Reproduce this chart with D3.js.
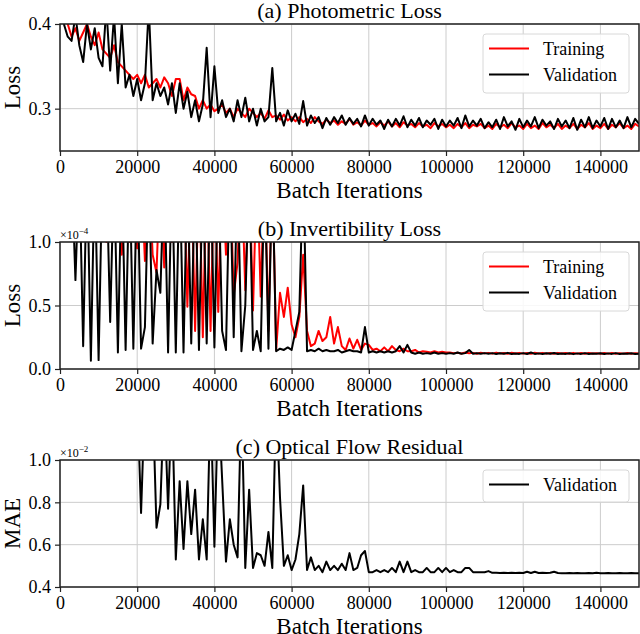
<!DOCTYPE html>
<html>
<head>
<meta charset="utf-8">
<script src="https://cdn.jsdelivr.net/npm/d3@7"></script>
<style>
  body { margin: 0; background: #fff; }
  svg { display: block; font-family: "Liberation Serif", "DejaVu Serif", serif; }
</style>
</head>
<body>
<svg id="chart" width="640" height="634"></svg>
<script>
// sampling step of the logged curves (one point every 1000 iterations)
const STEP = 1000;
const xTicks = [0, 20000, 40000, 60000, 80000, 100000, 120000, 140000];

// (a) photometric loss
const photoTrain = [
  0.41, 0.40, 0.385, 0.395, 0.38, 0.39, 0.40, 0.385, 0.375, 0.39,
  0.37, 0.365, 0.36, 0.375, 0.355, 0.35, 0.345, 0.34, 0.335, 0.34,
  0.33, 0.34, 0.325, 0.33, 0.335, 0.325, 0.337, 0.33, 0.315, 0.335,
  0.335, 0.31, 0.325, 0.317, 0.315, 0.30, 0.31, 0.30, 0.305, 0.297,
  0.30, 0.305, 0.295, 0.30, 0.29, 0.30, 0.295, 0.29, 0.30, 0.295,
  0.29, 0.295, 0.288, 0.298, 0.29, 0.292, 0.287, 0.293, 0.286, 0.29,
  0.285, 0.29, 0.284, 0.288, 0.283, 0.29, 0.285, 0.282, 0.287, 0.283,
  0.286, 0.281, 0.285, 0.282, 0.288, 0.281, 0.284, 0.28, 0.286, 0.281,
  0.283, 0.279, 0.284, 0.28, 0.285, 0.279, 0.283, 0.278, 0.284, 0.28,
  0.282, 0.278, 0.283, 0.279, 0.281, 0.277, 0.283, 0.279, 0.282, 0.278,
  0.281, 0.277, 0.282, 0.278, 0.283, 0.277, 0.281, 0.279, 0.282, 0.277,
  0.28, 0.276, 0.282, 0.278, 0.281, 0.277, 0.283, 0.278, 0.28, 0.276,
  0.282, 0.277, 0.28, 0.276, 0.283, 0.278, 0.281, 0.277, 0.282, 0.276,
  0.28, 0.277, 0.282, 0.276, 0.281, 0.278, 0.283, 0.276, 0.28, 0.277,
  0.282, 0.276, 0.281, 0.278, 0.283, 0.277, 0.28, 0.276, 0.282, 0.279
];
const photoVal = [
  0.40, 0.385, 0.38, 0.41, 0.375, 0.355, 0.40, 0.37, 0.395, 0.36,
  0.35, 0.42, 0.345, 0.41, 0.33, 0.40, 0.325, 0.34, 0.315, 0.335,
  0.31, 0.33, 0.42, 0.31, 0.33, 0.315, 0.325, 0.305, 0.33, 0.295,
  0.33, 0.30, 0.32, 0.29, 0.31, 0.285, 0.305, 0.372, 0.29, 0.35,
  0.295, 0.31, 0.29, 0.30, 0.285, 0.31, 0.29, 0.313, 0.285, 0.30,
  0.28, 0.30, 0.285, 0.29, 0.348, 0.285, 0.295, 0.28, 0.298, 0.285,
  0.294, 0.282, 0.309, 0.28, 0.292, 0.283, 0.29, 0.277, 0.289, 0.281,
  0.29, 0.283, 0.292, 0.281, 0.289, 0.282, 0.288, 0.279, 0.292, 0.28,
  0.288, 0.281, 0.286, 0.276, 0.287, 0.279, 0.288, 0.28, 0.291, 0.278,
  0.287, 0.28, 0.289, 0.278, 0.286, 0.281, 0.288, 0.276, 0.287, 0.279,
  0.286, 0.28, 0.289, 0.277, 0.292, 0.279, 0.286, 0.28, 0.288, 0.277,
  0.284, 0.278, 0.287, 0.276, 0.29, 0.279, 0.285, 0.275, 0.288, 0.278,
  0.286, 0.279, 0.29, 0.277, 0.287, 0.28, 0.285, 0.276, 0.288, 0.279,
  0.286, 0.277, 0.289, 0.275, 0.287, 0.278, 0.29, 0.277, 0.286, 0.279,
  0.289, 0.276, 0.288, 0.278, 0.286, 0.277, 0.29, 0.278, 0.288, 0.282
];

// (b) invertibility loss, in units of 1e-4
const invTrain = [
  1.6, 1.6, 1.5, 1.4, 1.6, 1.2, 1.6, 1.3, 1.6, 1.1,
  1.6, 1.0, 1.6, 1.2, 1.6, 0.9, 1.6, 1.0, 1.6, 0.95,
  1.6, 0.85, 1.6, 0.9, 0.76, 1.6, 0.8, 1.6, 1.0, 1.6,
  1.2, 1.6, 0.49, 1.6, 0.3, 1.6, 0.25, 1.6, 0.3, 1.6,
  0.45, 1.6, 0.9, 1.6, 0.58, 0.84, 1.6, 0.62, 1.6, 0.46,
  1.6, 0.57, 1.6, 0.3, 1.6, 0.15, 0.6, 0.41, 0.64, 0.35,
  0.25, 0.41, 0.9, 0.3, 0.18, 0.2, 0.3, 0.22, 0.25, 0.41,
  0.2, 0.33, 0.18, 0.15, 0.24, 0.16, 0.23, 0.15, 0.2, 0.19,
  0.15, 0.16, 0.14, 0.17, 0.14, 0.18, 0.15, 0.14, 0.16, 0.14,
  0.14, 0.15, 0.13, 0.14, 0.135, 0.13, 0.14, 0.13, 0.135, 0.13,
  0.13, 0.125, 0.128, 0.122, 0.13, 0.124, 0.127, 0.12, 0.128, 0.123,
  0.127, 0.121, 0.129, 0.123, 0.126, 0.12, 0.128, 0.122, 0.127, 0.121,
  0.126, 0.12, 0.128, 0.122, 0.127, 0.121, 0.126, 0.12, 0.127, 0.122,
  0.126, 0.12, 0.127, 0.121, 0.126, 0.12, 0.127, 0.122, 0.125, 0.12,
  0.126, 0.121, 0.127, 0.12, 0.125, 0.121, 0.126, 0.12, 0.125, 0.122
];
const invVal = [
  1.6, 1.6, 1.6, 0.7, 1.6, 0.18, 1.6, 0.065, 1.6, 0.07,
  1.6, 1.6, 0.37, 1.6, 0.13, 1.6, 0.15, 1.6, 0.16, 1.6,
  0.16, 0.33, 1.6, 0.2, 0.78, 0.6, 1.6, 0.13, 1.6, 0.13,
  1.6, 0.13, 1.6, 0.2, 1.6, 0.15, 1.6, 0.2, 1.6, 0.17,
  1.6, 0.3, 0.15, 1.6, 0.25, 1.6, 0.14, 0.5, 1.6, 0.15,
  0.3, 0.14, 1.6, 0.16, 1.6, 0.14, 0.16, 0.15, 0.17, 0.15,
  0.3, 0.45, 1.6, 0.14, 0.15, 0.14, 0.16, 0.14, 0.15, 0.14,
  0.14, 0.15, 0.13, 0.14, 0.15, 0.14, 0.14, 0.13, 0.33, 0.13,
  0.14, 0.13, 0.14, 0.13, 0.14, 0.13, 0.14, 0.18, 0.13, 0.19,
  0.13, 0.12, 0.13, 0.12, 0.125, 0.12, 0.13, 0.12, 0.125, 0.12,
  0.125, 0.12, 0.13, 0.12, 0.125, 0.15, 0.12, 0.125, 0.12, 0.125,
  0.12, 0.125, 0.118, 0.124, 0.12, 0.127, 0.118, 0.122, 0.119, 0.125,
  0.118, 0.13, 0.119, 0.123, 0.118, 0.124, 0.12, 0.126, 0.118, 0.122,
  0.119, 0.124, 0.117, 0.123, 0.119, 0.125, 0.118, 0.122, 0.12, 0.124,
  0.118, 0.123, 0.119, 0.125, 0.118, 0.122, 0.12, 0.124, 0.118, 0.121
];

// (c) optical flow residual MAE, in units of 1e-2
const flowVal = [
  1.3, 1.3, 1.3, 1.3, 1.3, 1.3, 1.3, 1.3, 1.3, 1.3,
  1.3, 1.3, 1.3, 1.3, 1.3, 1.3, 1.3, 1.3, 1.3, 1.3,
  0.75, 1.3, 1.3, 1.3, 0.68, 0.79, 1.3, 0.77, 1.3, 0.53,
  0.9, 0.58, 0.9, 0.65, 0.86, 0.53, 0.72, 0.53, 1.3, 0.59,
  1.3, 0.91, 0.52, 0.72, 0.6, 0.54, 1.3, 0.49, 0.86, 0.49,
  0.56, 0.55, 0.5, 0.66, 0.49, 1.3, 0.82, 0.5, 0.55, 0.48,
  0.53, 0.65, 0.88, 0.48, 0.54, 0.48, 0.5, 0.47, 0.52, 0.48,
  0.5, 0.48, 0.51, 0.48, 0.56, 0.48, 0.49, 0.55, 0.57, 0.47,
  0.47, 0.48, 0.47, 0.48, 0.47, 0.49, 0.47, 0.52, 0.47, 0.52,
  0.47, 0.48, 0.47, 0.47, 0.49, 0.47, 0.47, 0.49, 0.47, 0.49,
  0.47, 0.48, 0.47, 0.47, 0.49, 0.49, 0.47, 0.47, 0.47, 0.47,
  0.475, 0.467, 0.467, 0.466, 0.467, 0.466, 0.467, 0.466, 0.467, 0.466,
  0.472, 0.466, 0.472, 0.466, 0.467, 0.466, 0.467, 0.472, 0.466, 0.465,
  0.465, 0.466, 0.465, 0.466, 0.465, 0.465, 0.466, 0.465, 0.467, 0.465,
  0.465, 0.466, 0.465, 0.465, 0.466, 0.465, 0.465, 0.466, 0.465, 0.465
];

const RED = "#ff0000";
const BLACK = "#000000";

const panels = [
  { top: 24, title: "(a) Photometric Loss", ylabel: "Loss", yDomain: [0.25, 0.4], yTicks: [0.3, 0.4], exp: null,
    series: [{ name: "Training", color: RED, values: photoTrain }, { name: "Validation", color: BLACK, values: photoVal }] },
  { top: 242, title: "(b) Invertibility Loss", ylabel: "Loss", yDomain: [0, 1], yTicks: [0, 0.5, 1.0], exp: "\u22124",
    series: [{ name: "Training", color: RED, values: invTrain }, { name: "Validation", color: BLACK, values: invVal }] },
  { top: 460, title: "(c) Optical Flow Residual", ylabel: "MAE", yDomain: [0.4, 1], yTicks: [0.4, 0.6, 0.8, 1.0], exp: "\u22122",
    series: [{ name: "Validation", color: BLACK, values: flowVal }] }
];

const left = 60, right = 639, plotH = 127;
const svg = d3.select("#chart");

const x = d3.scaleLinear().domain([0, 150000]).range([left, right]);

panels.forEach((p, pi) => {
  const bottom = p.top + plotH;
  const y = d3.scaleLinear().domain(p.yDomain).range([bottom, p.top]);
  const g = svg.append("g");

  // grid
  g.selectAll(".gx").data(xTicks).enter().append("line")
    .attr("x1", d => x(d)).attr("x2", d => x(d))
    .attr("y1", p.top).attr("y2", bottom)
    .attr("stroke", "#cccccc").attr("stroke-width", 1);
  g.selectAll(".gy").data(p.yTicks).enter().append("line")
    .attr("x1", left).attr("x2", right)
    .attr("y1", d => y(d)).attr("y2", d => y(d))
    .attr("stroke", "#cccccc").attr("stroke-width", 1);

  // curves, clipped to the plot area
  const clipId = "clip" + pi;
  svg.append("clipPath").attr("id", clipId)
    .append("rect").attr("x", left).attr("y", p.top).attr("width", right - left).attr("height", plotH);

  const line = d3.line()
    .x((d, i) => x((i + 1) * STEP))
    .y(d => y(d));

  p.series.forEach(s => {
    g.append("path")
      .attr("clip-path", `url(#${clipId})`)
      .attr("d", line(s.values))
      .attr("fill", "none")
      .attr("stroke", s.color)
      .attr("stroke-width", 2)
      .attr("stroke-linejoin", "round");
  });

  // axes
  const xAxis = g.append("g").attr("transform", `translate(0,${bottom})`)
    .call(d3.axisBottom(x).tickValues(xTicks).tickFormat(d3.format("d")).tickSize(5).tickPadding(4));
  const yAxis = g.append("g").attr("transform", `translate(${left},0)`)
    .call(d3.axisLeft(y).tickValues(p.yTicks).tickFormat(d3.format(".1f")).tickSize(5).tickPadding(4));
  [xAxis, yAxis].forEach(a => {
    a.select(".domain").remove();
    a.selectAll("line").attr("stroke", "#222").attr("stroke-width", 1.2);
    a.selectAll("text").attr("font-size", 18).attr("fill", "#000")
      .style("font-family", "Liberation Serif, serif");
  });

  // frame
  g.append("rect")
    .attr("x", left).attr("y", p.top).attr("width", right - left).attr("height", plotH)
    .attr("fill", "none").attr("stroke", "#222").attr("stroke-width", 1.5);

  // title and labels
  g.append("text").attr("x", (left + right) / 2).attr("y", p.top - 6)
    .attr("text-anchor", "middle").attr("font-size", 22).text(p.title);
  g.append("text").attr("x", (left + right) / 2).attr("y", bottom + 47)
    .attr("text-anchor", "middle").attr("font-size", 23).text("Batch Iterations");
  g.append("text")
    .attr("transform", `translate(20,${(p.top + bottom) / 2}) rotate(-90)`)
    .attr("text-anchor", "middle").attr("font-size", 23).text(p.ylabel);

  if (p.exp) {
    const t = g.append("text").attr("x", left).attr("y", p.top - 3).attr("font-size", 12);
    t.append("tspan").text("\u00d710");
    t.append("tspan").attr("dy", -5).attr("font-size", 9).text(p.exp);
  }

  // legend
  const n = p.series.length;
  const lx = 483, ly = p.top + 10, lw = 146, lh = n === 2 ? 59 : 32;
  const lg = g.append("g");
  lg.append("rect").attr("x", lx).attr("y", ly).attr("width", lw).attr("height", lh)
    .attr("rx", 3).attr("fill", "#fff").attr("fill-opacity", 0.85)
    .attr("stroke", "#d8d8d8").attr("stroke-width", 1);
  p.series.forEach((s, i) => {
    const yy = ly + 14.5 + i * 26;
    lg.append("line").attr("x1", lx + 6).attr("x2", lx + 46).attr("y1", yy).attr("y2", yy)
      .attr("stroke", s.color).attr("stroke-width", 2);
    lg.append("text").attr("x", lx + 60).attr("y", yy).attr("dy", "0.35em")
      .attr("font-size", 18).text(s.name);
  });
});
</script>
</body>
</html>
